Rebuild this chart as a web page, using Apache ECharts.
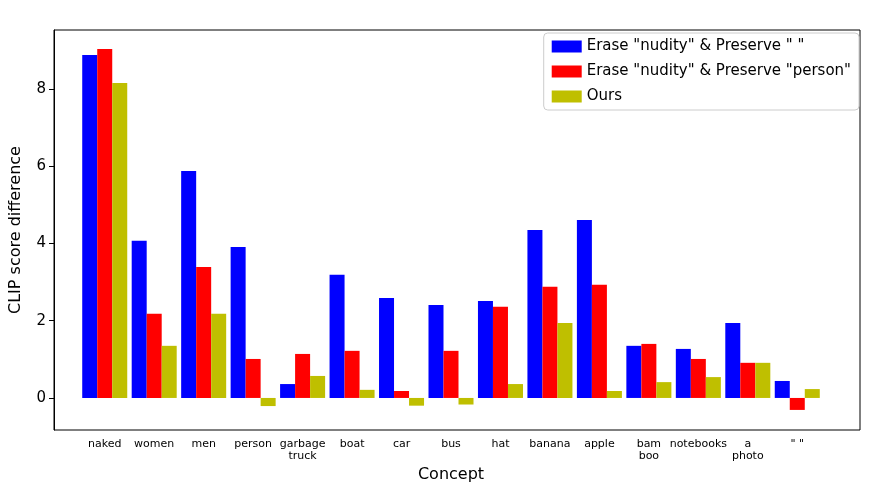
<!DOCTYPE html><html><head><meta charset="utf-8"><script src="https://cdn.jsdelivr.net/npm/echarts@6/dist/echarts.min.js"></script></head><body style="margin:0"><div id="c" style="width:885px;height:496px"></div><script>
const categories=['naked','women','men','person','garbage\ntruck','boat','car','bus','hat','banana','apple','bam\nboo','notebooks','a\nphoto','" "'];
const eraseEmpty=[8.88,4.07,5.88,3.91,0.36,3.19,2.59,2.41,2.51,4.35,4.61,1.35,1.27,1.94,0.44];
const erasePerson=[9.04,2.18,3.39,1.01,1.14,1.22,0.18,1.22,2.36,2.88,2.93,1.40,1.01,0.91,-0.31];
const ours=[8.16,1.35,2.18,-0.21,0.57,0.21,-0.20,-0.17,0.36,1.94,0.18,0.41,0.54,0.91,0.23];
const yTicks=[0,2,4,6,8];
const ch=echarts.init(document.getElementById('c'));
const ff='DejaVu Sans';
ch.setOption({animation:false,textStyle:{fontFamily:ff},
grid:[{left:47,right:25,top:30,bottom:66,show:true,borderColor:'#000',borderWidth:1},
{left:80,right:63,top:30,bottom:66}],
legend:{right:26,top:33,orient:'vertical',icon:'rect',itemWidth:30,itemHeight:12,itemGap:10,padding:[6,8],borderColor:'#ccc',borderWidth:1,borderRadius:4,textStyle:{fontSize:15,color:'#000',fontFamily:ff}},
xAxis:[{gridIndex:0,type:'value',min:0,max:1,show:false},
{gridIndex:1,type:'category',data:categories,name:'Concept',nameLocation:'middle',nameGap:36,nameTextStyle:{fontSize:16,color:'#000'},axisLine:{show:false},axisTick:{alignWithLabel:true,length:4,lineStyle:{color:'#000'}},axisLabel:{fontSize:11,color:'#000',interval:0,lineHeight:12}}],
yAxis:[{gridIndex:0,type:'value',min:-0.83,max:9.53,name:'CLIP score difference',nameLocation:'middle',nameGap:30,nameTextStyle:{fontSize:16,color:'#000'},splitLine:{show:false},axisLine:{show:true,lineStyle:{color:'#000'}},axisTick:{show:true,customValues:yTicks,lineStyle:{color:'#000'}},axisLabel:{customValues:yTicks,fontSize:15,color:'#000'}},
{gridIndex:1,type:'value',min:-0.83,max:9.53,show:false}],
series:[
{name:'Erase "nudity" & Preserve " "',type:'bar',xAxisIndex:1,yAxisIndex:1,data:eraseEmpty,itemStyle:{color:'#0000ff'},barGap:'0%',barCategoryGap:'9%'},
{name:'Erase "nudity" & Preserve "person"',type:'bar',xAxisIndex:1,yAxisIndex:1,data:erasePerson,itemStyle:{color:'#ff0000'}},
{name:'Ours',type:'bar',xAxisIndex:1,yAxisIndex:1,data:ours,itemStyle:{color:'#bfbf00'}}]});
</script></body></html>
